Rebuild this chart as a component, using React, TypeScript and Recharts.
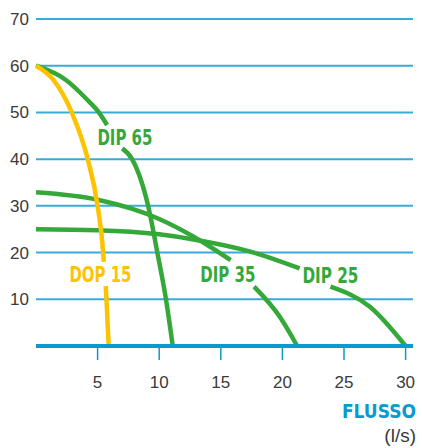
import { LineChart, Line, XAxis, YAxis, CartesianGrid, ReferenceDot } from "recharts";

const GREEN = "#34a838";
const YELLOW = "#fdc300";
const BLUE = "#0a9ad0";
const GRID = "#3aaad8";
const TEXT = "#3a3a3a";
const NARROW = "'Liberation Sans Narrow', 'DejaVu Sans Condensed', 'Roboto', sans-serif";
const PLAIN = "'Liberation Sans', 'Roboto', sans-serif";

const xTicks = [5, 10, 15, 20, 25, 30];
const yTicks = [10, 20, 30, 40, 50, 60, 70];

// flow (l/s) vs head, null = break where the curve label sits
const dop15 = [
  { x: 0, y: 60 }, { x: 1.4, y: 57 }, { x: 2.9, y: 50 }, { x: 4.2, y: 40 }, { x: 5.0, y: 30 },
  { x: 5.45, y: 20 }, { x: 5.5, y: 18 }, { x: 5.58, y: null }, { x: 5.66, y: 12.8 },
  { x: 5.72, y: 10 }, { x: 5.9, y: 0 },
];
const dip65 = [
  { x: 0, y: 60 }, { x: 2.4, y: 57 }, { x: 4.2, y: 52.6 }, { x: 5.1, y: 50 }, { x: 5.77, y: 47.3 },
  { x: 6.4, y: null }, { x: 7.0, y: 42.3 }, { x: 7.8, y: 40 }, { x: 9.1, y: 30 },
  { x: 9.85, y: 20 }, { x: 10.55, y: 10 }, { x: 11.1, y: 0 },
];
const dip35 = [
  { x: 0, y: 32.9 }, { x: 5, y: 31.3 }, { x: 10, y: 27.2 }, { x: 12.8, y: 23.4 }, { x: 15.8, y: 18.4 },
  { x: 16.7, y: null }, { x: 17.7, y: 12.7 }, { x: 19.8, y: 6.2 }, { x: 21.2, y: 0 },
];
const dip25 = [
  { x: 0, y: 25 }, { x: 5, y: 24.8 }, { x: 10, y: 23.9 }, { x: 12.8, y: 22.8 }, { x: 17.4, y: 20.2 },
  { x: 21.4, y: 16.6 }, { x: 22.6, y: null }, { x: 23.9, y: 12.7 }, { x: 27.1, y: 8.4 }, { x: 30, y: 0 },
];

const labels = [
  { text: "DIP 65", x: 7.22, y: 44.6, color: GREEN, len: 55 },
  { text: "DOP 15", x: 5.23, y: 15.2, color: YELLOW, len: 62 },
  { text: "DIP 35", x: 15.57, y: 15.4, color: GREEN, len: 55 },
  { text: "DIP 25", x: 23.9, y: 15.1, color: GREEN, len: 56 },
];

const curveLabel = (text: string, color: string, len: number) => (props: any) => {
  const vb = props.viewBox || {};
  const cx = (vb.x ?? 0) + (vb.width ?? 0) / 2;
  const cy = (vb.y ?? 0) + (vb.height ?? 0) / 2;
  return (
    <text
      x={cx}
      y={cy + 7.5}
      textAnchor="middle"
      fill={color}
      fontSize={21}
      fontWeight={700}
      fontFamily={NARROW}
      textLength={len}
      lengthAdjust="spacingAndGlyphs"
    >
      {text}
    </text>
  );
};

export default function App() {
  return (
    <div style={{ position: "absolute", left: 0, top: 0, width: 422, height: 448, background: "#fff" }}>
      <LineChart width={422} height={448} margin={{ top: 19, right: 9, left: 0, bottom: 0 }}>
        <CartesianGrid vertical={false} stroke={GRID} strokeWidth={2} />
        <XAxis
          dataKey="x"
          type="number"
          domain={[0, 30.6]}
          ticks={xTicks}
          height={102}
          axisLine={{ stroke: BLUE, strokeWidth: 4 }}
          tickLine={{ stroke: BLUE, strokeWidth: 1.5 }}
          tickSize={14}
          tickMargin={16}
          tick={{ fill: TEXT, fontSize: 17, fontFamily: PLAIN }}
        />
        <YAxis
          type="number"
          domain={[0, 70]}
          ticks={yTicks}
          width={36}
          axisLine={false}
          tickLine={false}
          tickSize={0}
          tickMargin={7}
          tick={{ fill: TEXT, fontSize: 17, fontFamily: PLAIN }}
        />
        <Line data={dip25} dataKey="y" type="monotone" stroke={GREEN} strokeWidth={4.5} dot={false} isAnimationActive={false} />
        <Line data={dip35} dataKey="y" type="monotone" stroke={GREEN} strokeWidth={4.5} dot={false} isAnimationActive={false} />
        <Line data={dip65} dataKey="y" type="monotone" stroke={GREEN} strokeWidth={4.5} dot={false} isAnimationActive={false} />
        <Line data={dop15} dataKey="y" type="monotone" stroke={YELLOW} strokeWidth={4.5} dot={false} isAnimationActive={false} />
        {labels.map((l) => (
          <ReferenceDot
            key={l.text}
            x={l.x}
            y={l.y}
            r={0}
            stroke="none"
            fill="none"
            label={{ content: curveLabel(l.text, l.color, l.len) }}
          />
        ))}
      </LineChart>
      <svg width={422} height={448} style={{ position: "absolute", left: 0, top: 0, pointerEvents: "none" }}>
        <text x={416} y={417.5} textAnchor="end" fill={BLUE} fontSize={19} fontWeight={700} fontFamily={NARROW}>
          FLUSSO
        </text>
        <text x={416} y={442} textAnchor="end" fill={TEXT} fontSize={19} fontFamily={PLAIN}>
          (l/s)
        </text>
      </svg>
    </div>
  );
}
